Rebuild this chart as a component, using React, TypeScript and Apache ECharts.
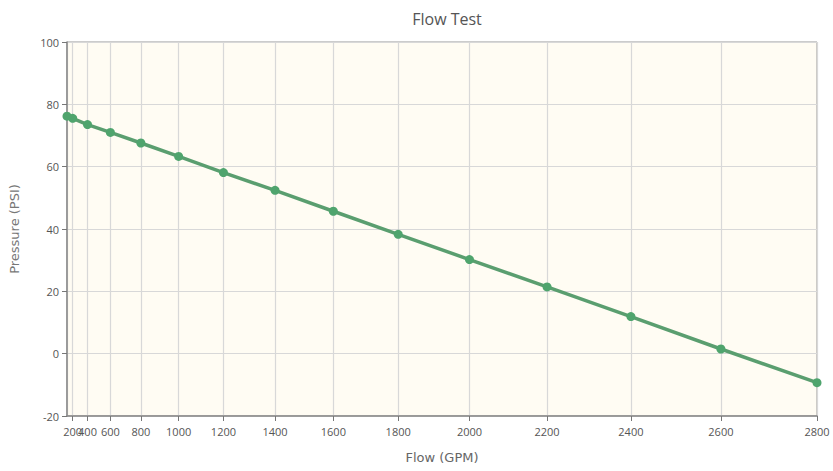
import React, { useEffect, useRef } from "react";
import * as echarts from "echarts";

const EXP = 1.85;
const flowTicks = [0, 200, 400, 600, 800, 1000, 1200, 1400, 1600, 1800, 2000, 2200, 2400, 2600, 2800];
const flowValues = [0, 200, 400, 600, 800, 1000, 1200, 1400, 1600, 1800, 2000, 2200, 2400, 2600, 2800];
const pressureValues = [76.2, 75.5, 73.5, 71.0, 67.6, 63.3, 58.1, 52.4, 45.7, 38.3, 30.2, 21.4, 11.9, 1.5, -9.3];

const FONT = "'Open Sans', 'DejaVu Sans', sans-serif";
const NAME_FONT = "'DejaVu Sans', sans-serif";
const tf = (q: number) => Math.pow(q, EXP);

export default function App() {
  const ref = useRef<HTMLDivElement>(null);
  useEffect(() => {
    if (!ref.current) return;
    const chart = echarts.init(ref.current, null, { renderer: "svg" });
    const xt = flowTicks.map(tf);
    chart.setOption({
      animation: false,
      backgroundColor: "#ffffff",
      title: {
        text: "Flow Test",
        left: 442,
        top: 6,
        textAlign: "center",
        textStyle: { fontFamily: FONT, fontSize: 16, fontWeight: "normal", color: "#555" },
      },
      grid: {
        left: 67,
        right: 16,
        top: 42,
        bottom: 55,
        show: true,
        backgroundColor: "#fffcf3",
        borderColor: "#999",
        borderWidth: 1,
      },
      xAxis: {
        type: "value",
        min: 0,
        max: tf(2800),
        name: "Flow (GPM)",
        nameLocation: "middle",
        nameGap: 35,
        nameTextStyle: { fontFamily: NAME_FONT, fontSize: 13, color: "#666" },
        axisLine: { show: true, onZero: false, lineStyle: { color: "#888", width: 1.5 } },
        axisTick: { show: true, customValues: xt, length: 5, lineStyle: { color: "#777" } },
        axisLabel: {
          customValues: xt,
          formatter: (v: number) => String(Math.round(Math.pow(v, 1 / EXP))),
          fontFamily: FONT,
          fontSize: 11,
          color: "#555",
          margin: 10,
          hideOverlap: false,
        },
        splitLine: { show: true, lineStyle: { color: "#d8d8d8", width: 1.2 } },
      },
      yAxis: {
        type: "value",
        min: -20,
        max: 100,
        interval: 20,
        name: "Pressure (PSI)",
        nameLocation: "middle",
        nameGap: 46,
        nameTextStyle: { fontFamily: NAME_FONT, fontSize: 13, color: "#777" },
        axisLine: { show: true, onZero: false, lineStyle: { color: "#888", width: 1.5 } },
        axisTick: { show: true, length: 5, lineStyle: { color: "#777" } },
        axisLabel: { fontFamily: FONT, fontSize: 11, color: "#555", margin: 8 },
        splitLine: { show: true, lineStyle: { color: "#d8d8d8", width: 1.2 } },
      },
      series: [
        {
          type: "line",
          data: flowValues.map((q, i) => [tf(q), pressureValues[i]]),
          symbol: "circle",
          symbolSize: 9,
          clip: false,
          lineStyle: { color: "#5a9e6f", width: 3.5 },
          itemStyle: { color: "#4fa46d" },
        },
      ],
    });
    return () => chart.dispose();
  }, []);
  return <div ref={ref} style={{ width: 833, height: 471, position: "absolute", left: 0, top: 0 }} />;
}
